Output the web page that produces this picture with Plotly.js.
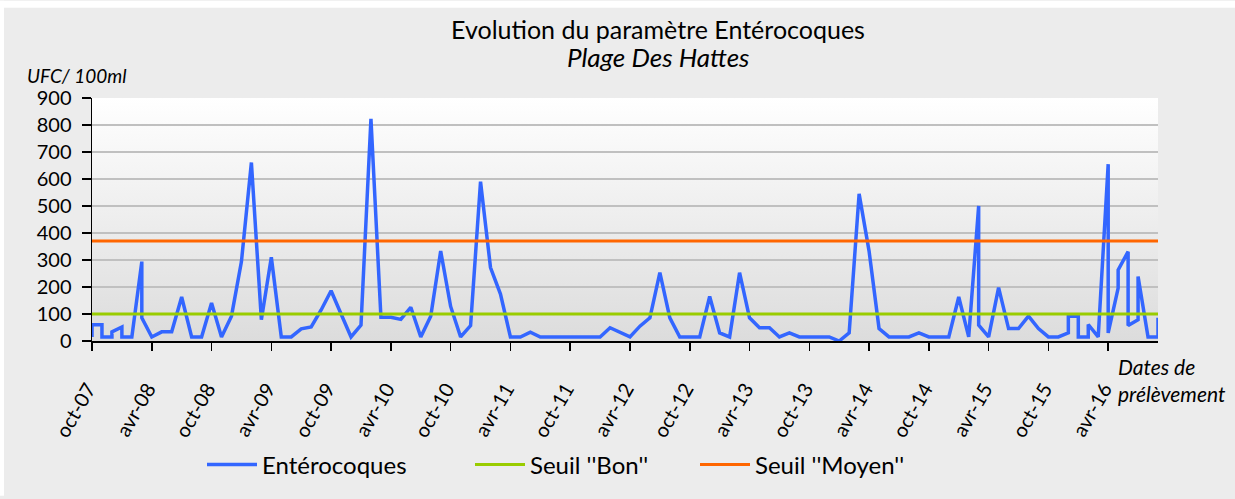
<!DOCTYPE html>
<html>
<head>
<meta charset="utf-8">
<script src="https://cdn.plot.ly/plotly-3.0.1.min.js"></script>
<style>html,body{margin:0;padding:0;background:#fff;}#chart{width:1235px;height:499px;}</style>
</head>
<body>
<div id="chart"></div>
<script>
// Sample months (YYYY-MM); repeated months = several samples in the same month
const sampleMonths = [
 '2007-10','2007-10','2007-11','2007-11','2007-12','2007-12','2008-01','2008-01','2008-02','2008-03','2008-03',
 '2008-04','2008-05','2008-06','2008-07','2008-08','2008-09','2008-10','2008-11','2008-12',
 '2009-01','2009-02','2009-03','2009-04','2009-05','2009-06','2009-07','2009-08','2009-09','2009-10','2009-11','2009-12',
 '2010-01','2010-02','2010-03','2010-04','2010-05','2010-06','2010-07','2010-08','2010-09','2010-10','2010-11','2010-12',
 '2011-01','2011-02','2011-03','2011-04','2011-05','2011-06','2011-07','2011-08','2011-09','2011-10','2011-11','2011-12',
 '2012-01','2012-02','2012-04','2012-05','2012-06','2012-07','2012-08','2012-09','2012-10','2012-11','2012-12',
 '2013-01','2013-02','2013-03','2013-04','2013-05','2013-06','2013-07','2013-08','2013-09','2013-10','2013-11','2013-12',
 '2014-01','2014-02','2014-03','2014-04','2014-05','2014-06','2014-07','2014-08','2014-09','2014-10','2014-11','2014-12',
 '2015-01','2015-02','2015-03','2015-03','2015-04','2015-05','2015-06','2015-07','2015-08','2015-09','2015-10','2015-11',
 '2015-12','2015-12','2016-01','2016-01','2016-02','2016-02','2016-03','2016-04','2016-04','2016-05','2016-05',
 '2016-06','2016-06','2016-07','2016-07','2016-08','2016-09','2016-09'
];
// Entérocoques (UFC/100ml)
const enterocoques = [
 15,60,60,15,15,34,52,15,15,294,86,
 15,34,34,163,15,15,141,15,92,
 294,661,79,310,15,15,45,52,115,186,100,15,
 59,823,88,88,80,125,15,92,333,128,15,57,
 590,272,174,15,15,33,15,15,15,15,15,15,
 15,49,15,55,86,253,86,15,15,15,165,
 30,15,253,86,49,49,15,30,15,15,15,15,
 0,30,545,333,46,15,15,15,30,15,15,15,
 163,15,500,59,15,198,46,46,92,46,15,15,
 30,92,92,15,15,61,15,655,30,196,263,
 331,57,79,239,15,15,86
];
// Thresholds
const seuilMonths = ['2007-10','2016-09'];
const seuilBon = [100,100];
const seuilMoyen = [370,370];
// Axis ticks
const tickMonths = ['2007-10','2008-04','2008-10','2009-04','2009-10','2010-04','2010-10','2011-04','2011-10',
 '2012-04','2012-10','2013-04','2013-10','2014-04','2014-10','2015-04','2015-10','2016-04'];
const tickLabels = ['oct-07','avr-08','oct-08','avr-09','oct-09','avr-10','oct-10','avr-11','oct-11',
 'avr-12','oct-12','avr-13','oct-13','avr-14','oct-14','avr-15','oct-15','avr-16'];
const axisStart = '2007-10', axisEnd = '2016-09';

// month-based date axis (one slot per month, like the spreadsheet's month base unit)
function mIdx(s){ const p = s.split('-'); return (+p[0]-2007)*12 + (+p[1]-10); }

const FONT = 'Lato, "Open Sans", sans-serif';
const gradSvg = "<svg xmlns='http://www.w3.org/2000/svg' width='100' height='100' preserveAspectRatio='none'>" +
 "<defs><linearGradient id='g' x1='0' y1='0' x2='0' y2='1'><stop offset='0' stop-color='#ffffff'/>" +
 "<stop offset='1' stop-color='#dcdcdc'/></linearGradient></defs><rect width='100' height='100' fill='url(#g)'/></svg>";

const traces = [
 {x: sampleMonths.map(mIdx), y: enterocoques, type:'scatter', mode:'lines', name:'Entérocoques',
  line:{color:'#3366ff', width:3.5}, legend:'legend'},
 {x: seuilMonths.map(mIdx), y: seuilBon, type:'scatter', mode:'lines', name:"Seuil ''Bon''",
  line:{color:'#99cc00', width:3}, legend:'legend2'},
 {x: seuilMonths.map(mIdx), y: seuilMoyen, type:'scatter', mode:'lines', name:"Seuil ''Moyen''",
  line:{color:'#ff6600', width:3}, legend:'legend3'}
];

const L = 92, R = 77, T = 98, B = 156, PW = 1235-L-R, PH = 499-T-B;
function px(x){ return (x-L)/PW; }
function py(y){ return (499-B-y)/PH; }

const legBase = {orientation:'h', xanchor:'left', yanchor:'middle', y: py(468), bgcolor:'rgba(0,0,0,0)',
 font:{family:FONT, size:24, color:'#000'}, itemwidth:50, itemclick:false, itemdoubleclick:false};

const layout = {
 width:1235, height:499,
 margin:{l:L, r:R, t:T, b:B, pad:0},
 paper_bgcolor:'#ececec', plot_bgcolor:'rgba(0,0,0,0)',
 font:{family:FONT, color:'#000'},
 title:{text:'Evolution du paramètre Entérocoques', font:{family:FONT, size:25, color:'#000'},
  xref:'paper', x: px(658), xanchor:'center', yref:'container', y: 1-30/499, yanchor:'middle'},
 xaxis:{range:[mIdx(axisStart), mIdx(axisEnd)], tickmode:'array', tickvals: tickMonths.map(mIdx), ticktext: tickLabels,
  tickangle:-60, ticks:'outside', ticklen:8, tickwidth:1.5, tickcolor:'#000',
  showline:true, linecolor:'#000', linewidth:1.5, showgrid:false, zeroline:false,
  tickfont:{family:FONT, size:20, color:'#000'}, ticklabelstandoff:19, ticklabelshift:-4, fixedrange:true},
 yaxis:{range:[0,900], dtick:100, ticks:'outside', ticklen:9, tickwidth:1.5, tickcolor:'#000',
  showline:true, linecolor:'#000', linewidth:1.5, showgrid:true, gridcolor:'#c0c0c0', gridwidth:1.5,
  zeroline:false, tickfont:{family:FONT, size:20, color:'#000'}, ticklabelstandoff:6, fixedrange:true},
 showlegend:true,
 legend: Object.assign({}, legBase, {x: px(202)}),
 legend2: Object.assign({}, legBase, {x: px(470)}),
 legend3: Object.assign({}, legBase, {x: px(695)}),
 images:[{source:'data:image/svg+xml;charset=utf-8,'+encodeURIComponent(gradSvg), xref:'paper', yref:'paper',
  x:0, y:1, sizex:1, sizey:1, xanchor:'left', yanchor:'top', sizing:'stretch', layer:'below'}],
 shapes:[
  {type:'rect', xref:'paper', yref:'paper', x0:px(0), x1:px(1235), y0:py(7), y1:py(0), fillcolor:'#ffffff', line:{width:0}, layer:'below'},
  {type:'rect', xref:'paper', yref:'paper', x0:px(0), x1:px(4), y0:py(499), y1:py(0), fillcolor:'#ffffff', line:{width:0}, layer:'below'}
 ],
 annotations:[
  {text:'<i>Plage Des Hattes</i>', xref:'paper', yref:'paper', x:px(658), y:py(57), xanchor:'center', yanchor:'middle',
   showarrow:false, font:{family:FONT, size:26, color:'#000'}},
  {text:'<i>UFC/ 100ml</i>', xref:'paper', yref:'paper', x:px(26), y:py(75), xanchor:'left', yanchor:'middle',
   showarrow:false, borderpad:0, font:{family:FONT, size:19, color:'#000'}},
  {text:'<i>Dates de<br>prélèvement</i>', xref:'paper', yref:'paper', x:px(1116), y:py(382), xanchor:'left', yanchor:'middle',
   align:'left', showarrow:false, font:{family:FONT, size:21, color:'#000'}}
 ]
};

Plotly.newPlot('chart', traces, layout, {displayModeBar:false, staticPlot:true});
</script>
</body>
</html>
